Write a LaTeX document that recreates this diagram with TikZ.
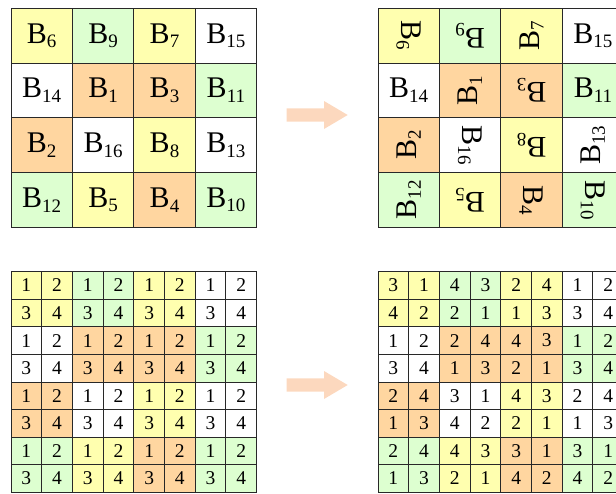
\documentclass[tikz,border=0pt]{standalone}
\usepackage{fontspec}
\setmainfont{Liberation Serif}
\usetikzlibrary{calc}
\definecolor{bkYellow}{RGB}{255,255,175}
\definecolor{bkGreen} {RGB}{221,255,208}
\definecolor{bkOrange}{RGB}{255,214,160}
\definecolor{bkWhite} {RGB}{255,255,255}
\definecolor{bkArrow} {RGB}{252,216,190}
\definecolor{bkLine}  {RGB}{ 40, 40, 40}
\newcommand{\blk}[1]{B\raisebox{-4.5pt}{\fontsize{19}{19}\selectfont #1}}
% quarter values of a block after turning it
\expandafter\def\csname rv0\endcsname{1,2,3,4}
\expandafter\def\csname rv90\endcsname{2,4,1,3}
\expandafter\def\csname rv180\endcsname{4,3,2,1}
\expandafter\def\csname rv-90\endcsname{3,1,4,2}

\begin{document}
\begin{tikzpicture}[
  x=1pt,y=-1pt,
  bigcell/.style={draw=bkLine,line width=0.9pt,inner sep=0pt,outer sep=0pt,
                  minimum width=61.4pt,minimum height=54.8pt,
                  font=\fontsize{30}{30}\selectfont},
  bigtext/.style={inner sep=0pt,font=\fontsize{30}{30}\selectfont},
  smallcell/.style={draw=bkLine,line width=0.9pt,inner sep=0pt,outer sep=0pt,
                    minimum width=30.7pt,minimum height=27.57pt,
                    font=\fontsize{19.5}{19.5}\selectfont},
  blockarrow/.style={fill=bkArrow,draw=none}
]
\useasboundingbox (0,0) rectangle (616,493);
\clip (0,0) rectangle (616,493);

% blocks: label / colour / turn
\foreach \lab/\col/\ang [count=\i from 0] in {
    6/bkYellow/-90, 9/bkGreen/180, 7/bkYellow/90, 15/bkWhite/0,
    14/bkWhite/0, 1/bkOrange/90, 3/bkOrange/180, 11/bkGreen/0,
    2/bkOrange/90, 16/bkWhite/-90, 8/bkYellow/180, 13/bkWhite/90,
    12/bkGreen/90, 5/bkYellow/180, 4/bkOrange/-90, 10/bkGreen/-90} {
  \pgfmathtruncatemacro{\r}{div(\i,4)}
  \pgfmathtruncatemacro{\c}{mod(\i,4)}
  % top grids
  \node[bigcell,fill=\col] (A\lab) at ({11+61.4*(\c+0.5)},{8.2+54.8*(\r+0.5)}) {\blk{\lab}};
  \node[bigcell,fill=\col] (R\lab) at ({378+61.4*(\c+0.5)},{8.2+54.8*(\r+0.5)}) {};
  \node[bigtext,rotate=\ang] (Rt\lab) at (R\lab.center) {\blk{\lab}};
  % bottom grids
  \edef\vlist{\csname rv\ang\endcsname}
  \foreach \q [count=\k from 0] in {1,2,3,4} {
    \pgfmathtruncatemacro{\sr}{2*\r+div(\k,2)}
    \pgfmathtruncatemacro{\sc}{2*\c+mod(\k,2)}
    \node[smallcell,fill=\col] (a\lab-\q) at ({11+30.7*(\sc+0.5)},{271.7+27.57*(\sr+0.5)}) {\q};
  }
  \foreach \q [count=\k from 0] in \vlist {
    \pgfmathtruncatemacro{\sr}{2*\r+div(\k,2)}
    \pgfmathtruncatemacro{\sc}{2*\c+mod(\k,2)}
    \node[smallcell,fill=\col] (r\lab-\k) at ({378+30.7*(\sc+0.5)},{271.7+27.57*(\sr+0.5)}) {\q};
  }
}

% arrows between the grids
\fill[blockarrow] (286.7,108.3) -- (324,108.3) -- (324,101) -- (347.7,115)
  -- (324,129) -- (324,121.7) -- (286.7,121.7) -- cycle;
\fill[blockarrow] (286.7,378.3) -- (324,378.3) -- (324,371) -- (347.7,385)
  -- (324,399) -- (324,391.7) -- (286.7,391.7) -- cycle;
\end{tikzpicture}
\end{document}
